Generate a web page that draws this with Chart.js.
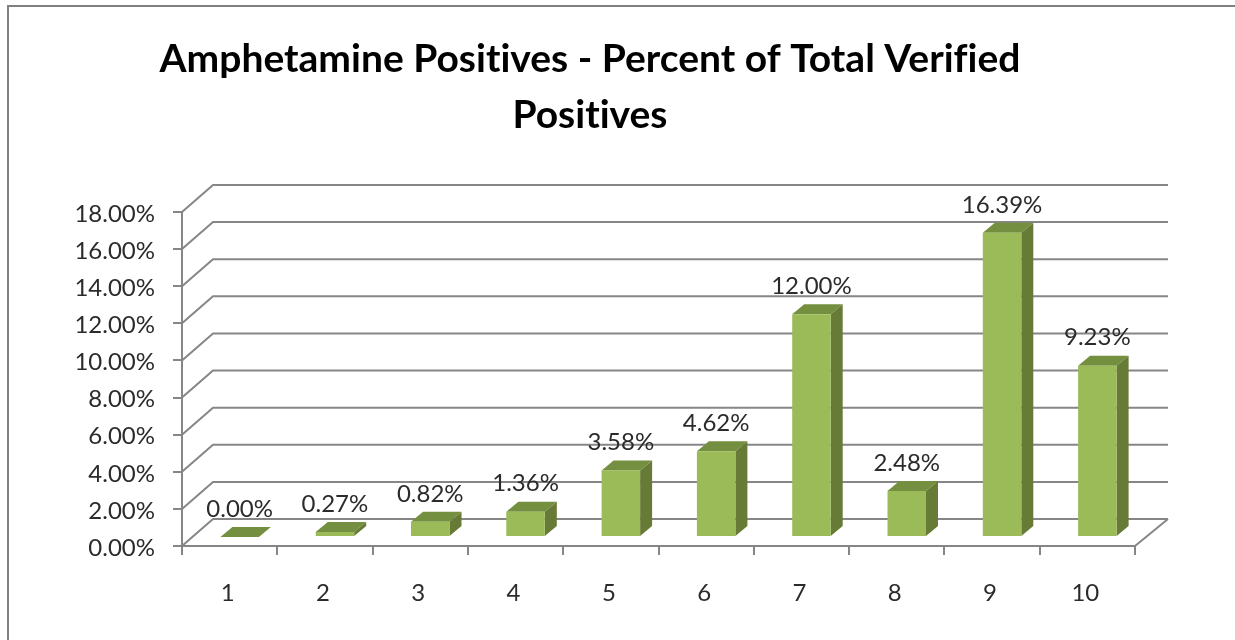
<!DOCTYPE html>
<html>
<head>
<meta charset="utf-8">
<title>Amphetamine Positives</title>
<script src="https://cdn.jsdelivr.net/npm/chart.js@4"></script>
<style>
    html, body { margin: 0; padding: 0; background: #fff; overflow: hidden; }
    #frame {
        position: absolute; left: 7px; top: 5px; right: 0; bottom: 0;
        border-top: 2px solid #808080; border-left: 2px solid #808080;
    }
    canvas { position: absolute; left: 0; top: 0; }
</style>
</head>
<body>
<div id="frame"></div>
<canvas id="amphetamineChart" width="1180" height="640"></canvas>
<script>
const categories = ['1', '2', '3', '4', '5', '6', '7', '8', '9', '10'];
const percentPositive = [0.00, 0.27, 0.82, 1.36, 3.58, 4.62, 12.00, 2.48, 16.39, 9.23];
const titleLines = ['Amphetamine Positives - Percent of Total Verified', 'Positives'];
const yMax = 18;
const yStep = 2;

const gridColor = '#868686';
const textColor = '#2b2b2b';
const fontFamily = 'Lato, "Open Sans", sans-serif';

// fake 3D: back wall offset and how far the bars sit/extend into it
const wall = {dx: 31, dy: -27};
const barShift = {dx: 10, dy: -9};
const barDepth = {dx: 12, dy: -10};

const wallPlugin = {
    id: 'wall',
    beforeDraw(chart) {
        // no ligatures, the original title has plain "ti" and "fi"
        chart.ctx.textRendering = 'optimizeSpeed';
    },
    beforeDatasetsDraw(chart) {
        const ctx = chart.ctx;
        const y = chart.scales.y;
        const area = chart.chartArea;
        ctx.save();
        ctx.strokeStyle = gridColor;
        ctx.lineWidth = 2;
        y.ticks.forEach(t => {
            const py = y.getPixelForValue(t.value);
            ctx.beginPath();
            ctx.moveTo(area.left, py);
            ctx.lineTo(area.left + wall.dx, py + wall.dy);
            ctx.lineTo(area.right + wall.dx + 2, py + wall.dy);
            ctx.stroke();
        });
        // right edge of the floor
        ctx.beginPath();
        ctx.moveTo(area.right, area.bottom);
        ctx.lineTo(area.right + wall.dx + 2, area.bottom + wall.dy);
        ctx.stroke();
        ctx.restore();
    }
};

const barsPlugin = {
    id: 'bars3d',
    beforeDatasetDraw(chart) {
        const ctx = chart.ctx;
        ctx.save();
        ctx.translate(barShift.dx, barShift.dy);
        chart.getDatasetMeta(0).data.forEach(bar => {
            const left = bar.x - bar.width / 2;
            const right = bar.x + bar.width / 2;
            // top face
            ctx.fillStyle = '#748f3f';
            ctx.beginPath();
            ctx.moveTo(left, bar.y);
            ctx.lineTo(left + barDepth.dx, bar.y + barDepth.dy);
            ctx.lineTo(right + barDepth.dx, bar.y + barDepth.dy);
            ctx.lineTo(right, bar.y);
            ctx.closePath();
            ctx.fill();
            // side face
            ctx.fillStyle = '#677b37';
            ctx.beginPath();
            ctx.moveTo(right, bar.y);
            ctx.lineTo(right + barDepth.dx, bar.y + barDepth.dy);
            ctx.lineTo(right + barDepth.dx, bar.base + barDepth.dy);
            ctx.lineTo(right, bar.base);
            ctx.closePath();
            ctx.fill();
        });
    },
    afterDatasetDraw(chart) {
        chart.ctx.restore();
    },
    afterDatasetsDraw(chart) {
        const ctx = chart.ctx;
        ctx.save();
        ctx.fillStyle = textColor;
        ctx.font = '24px ' + fontFamily;
        ctx.textAlign = 'center';
        ctx.textBaseline = 'middle';
        chart.getDatasetMeta(0).data.forEach((bar, i) => {
            const label = percentPositive[i].toFixed(2) + '%';
            ctx.fillText(label, bar.x + barShift.dx, bar.y + barShift.dy - 28);
        });
        ctx.restore();
    }
};

new Chart(document.getElementById('amphetamineChart'), {
    type: 'bar',
    data: {
        labels: categories,
        datasets: [{
            data: percentPositive,
            backgroundColor: '#9bbb59',
            borderWidth: 0,
            categoryPercentage: 1,
            barPercentage: 0.404,
            clip: false
        }]
    },
    options: {
        responsive: false,
        animation: false,
        // left padding only keeps the title centred where it is in the original
        layout: {padding: {left: 45, right: 45}},
        plugins: {
            legend: {display: false},
            tooltip: {enabled: false},
            title: {
                display: true,
                text: titleLines,
                color: '#000',
                font: {family: fontFamily, size: 39, weight: 'bold', lineHeight: 1.42},
                padding: {top: 32, bottom: 69.24}
            }
        },
        scales: {
            x: {
                afterFit(scale) { scale.height = 94; },
                grid: {drawOnChartArea: false, color: gridColor, lineWidth: 2, tickLength: 9},
                border: {color: gridColor, width: 2},
                ticks: {color: textColor, font: {family: fontFamily, size: 24}, padding: 24, labelOffset: -2, maxRotation: 0}
            },
            y: {
                min: 0,
                max: yMax,
                afterFit(scale) { scale.width = 137; },
                grid: {drawOnChartArea: false, color: gridColor, lineWidth: 2, tickLength: 9},
                border: {color: gridColor, width: 2},
                ticks: {
                    stepSize: yStep,
                    color: textColor,
                    font: {family: fontFamily, size: 24},
                    padding: 18,
                    labelOffset: 2,
                    callback: value => value.toFixed(2) + '%'
                }
            }
        }
    },
    plugins: [wallPlugin, barsPlugin]
});
</script>
</body>
</html>
